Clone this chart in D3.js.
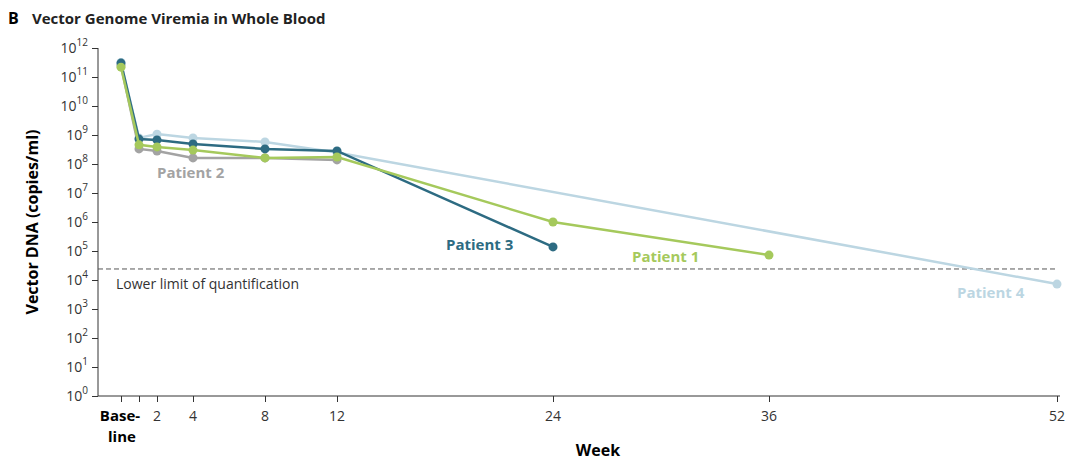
<!DOCTYPE html>
<html><head><meta charset="utf-8">
<script src="https://cdn.jsdelivr.net/npm/d3@7/dist/d3.min.js"></script>
<style>body{margin:0;background:#fff;font-family:"Open Sans",sans-serif}</style>
</head><body>
<svg width="1080" height="476"></svg>
<script>
var patients = [
    {name: 'Patient 4', color: '#bcd6e2', label: [957, 298], data: [[0,11.5],[1,8.9],[2,9.03],[4,8.9],[8,8.76],[12,8.4],[52,3.86]]},
    {name: 'Patient 2', color: '#a3a3a3', label: [157, 178], data: [[0,11.4],[1,8.52],[2,8.45],[4,8.21],[8,8.21],[12,8.14]]},
    {name: 'Patient 3', color: '#2d6b82', label: [446, 250], data: [[0,11.48],[1,8.86],[2,8.83],[4,8.69],[8,8.52],[12,8.45],[24,5.14]]},
    {name: 'Patient 1', color: '#a5c95c', label: [632, 262], data: [[0,11.34],[1,8.66],[2,8.59],[4,8.48],[8,8.21],[12,8.24],[24,6.0],[36,4.86]]}
];
var lloq = 4.38;

var svg = d3.select("svg");
var x = d3.scaleLinear().domain([0, 52]).range([121, 1057]);
var y = d3.scaleLinear().domain([0, 12]).range([396, 48]);

svg.append("text").attr("x", 8).attr("y", 24).attr("font-weight", "bold").attr("font-size", 16).text("B");
svg.append("text").attr("x", 32).attr("y", 24).attr("font-weight", "bold").attr("font-size", 15).attr("fill", "#222").text("Vector Genome Viremia in Whole Blood");

// y axis
var ya = svg.append("g").attr("transform", "translate(98,0)")
    .call(d3.axisLeft(y).ticks(12).tickSize(6).tickFormat(""));
ya.select(".domain").attr("d", "M0," + y(12) + "V" + y(0));
d3.range(0, 13).forEach(function(e) {
    var t = svg.append("text").attr("x", 88).attr("y", y(e) + 5).attr("text-anchor", "end")
        .attr("font-size", 14).attr("fill", "#333");
    t.append("tspan").text("10");
    t.append("tspan").attr("dy", -7).attr("font-size", 10).text(e);
});

// x axis
var xa = svg.append("g").attr("transform", "translate(0,396)")
    .call(d3.axisBottom(x).tickValues([0,1,2,4,8,12,24,36,52]).tickSize(6).tickFormat(""));
xa.select(".domain").attr("d", "M98,0H1060");
[2,4,8,12,24,36,52].forEach(function(w) {
    svg.append("text").attr("x", x(w)).attr("y", 421).attr("text-anchor", "middle")
        .attr("font-size", 14).attr("fill", "#333").text(w);
});
svg.append("text").attr("x", 120).attr("y", 421).attr("text-anchor", "middle").attr("font-weight", "bold").attr("font-size", 15).text("Base-");
svg.append("text").attr("x", 122).attr("y", 442).attr("text-anchor", "middle").attr("font-weight", "bold").attr("font-size", 15).text("line");
svg.append("text").attr("x", 598).attr("y", 456).attr("text-anchor", "middle").attr("font-weight", "bold").attr("font-size", 16).text("Week");
svg.append("text").attr("transform", "translate(38,222) rotate(-90)").attr("text-anchor", "middle")
    .attr("font-weight", "bold").attr("font-size", 16).text("Vector DNA (copies/ml)");

svg.selectAll(".tick line").attr("stroke", "#333");
svg.selectAll(".domain").attr("stroke", "#333");

// LLOQ
svg.append("line").attr("x1", 98).attr("x2", 1057).attr("y1", y(lloq)).attr("y2", y(lloq))
    .attr("stroke", "#555").attr("stroke-dasharray", "5,3");
svg.append("text").attr("x", 116).attr("y", 289).attr("font-size", 14).attr("fill", "#333").text("Lower limit of quantification");

var line = d3.line().x(function(d) { return x(d[0]); }).y(function(d) { return y(d[1]); });
patients.forEach(function(p) {
    svg.append("path").datum(p.data).attr("d", line).attr("fill", "none")
        .attr("stroke", p.color).attr("stroke-width", 2.5);
    svg.selectAll(null).data(p.data).enter().append("circle")
        .attr("cx", function(d) { return x(d[0]); }).attr("cy", function(d) { return y(d[1]); })
        .attr("r", 4.5).attr("fill", p.color);
    svg.append("text").attr("x", p.label[0]).attr("y", p.label[1]).attr("font-weight", "bold")
        .attr("font-size", 15).attr("fill", p.color).text(p.name);
});
</script>
</body></html>
